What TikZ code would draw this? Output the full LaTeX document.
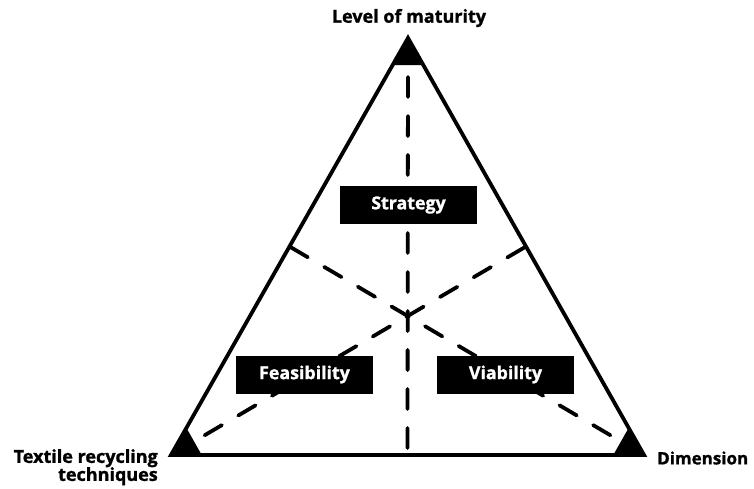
\documentclass[tikz,border=0pt]{standalone}
\usepackage{fontspec}
\setmainfont{Open Sans}[BoldFeatures={FakeBold=1.2}]
\usetikzlibrary{calc}
\begin{document}
\begin{tikzpicture}[x=1pt,y=-1pt,
  edge/.style={line width=3.8pt, line join=miter},
  guide/.style={line width=3.8pt, line cap=round, dash pattern=on 20pt off 19pt},
  tag/.style={fill=black, text=white, font=\bfseries\fontsize{17.8}{20}\selectfont, minimum width=137pt, minimum height=38pt, inner sep=0pt},
  corner/.style={font=\bfseries\fontsize{18}{20}\selectfont}]
\useasboundingbox (0,0) rectangle (754,488);
% outer triangle
\coordinate (A) at (408,38);
\coordinate (B) at (171,455);
\coordinate (C) at (644,455);
% side midpoints
\coordinate (mBC) at ($(B)!0.5!(C)$);
\coordinate (mAC) at ($(A)!0.5!(C)$);
\coordinate (mAB) at ($(A)!0.5!(B)$);
% dashed medians
\draw[guide] (A) -- (mBC);
\draw[guide] (B) -- (mAC);
\draw[guide] (C) -- (mAB);
\draw[edge] (A) -- (B) -- (C) -- cycle;
% filled corner wedges
\fill (A) -- ($(A)!0.065!(B)$) -- ($(A)!0.065!(C)$) -- cycle;
\fill (B) -- ($(B)!0.065!(A)$) -- ($(B)!0.065!(C)$) -- cycle;
\fill (C) -- ($(C)!0.065!(A)$) -- ($(C)!0.065!(B)$) -- cycle;
% labels in boxes
\node[tag] (strategy) at (408.5,205) {Strategy};
\node[tag] (feas) at (304.5,374.5) {Feasibility};
\node[tag] (viab) at (505.5,374.5) {Viability};
% corner labels
\node[corner] (lm) at (409,18) {Level of maturity};
\node[corner, anchor=west, inner sep=0pt, font=\bfseries\fontsize{17}{20}\selectfont] (dim) at (657,458) {Dimension};
\node[corner, anchor=north east, align=right, inner sep=0pt] (trt) at (158,449) {Textile recycling\\[-2pt]techniques};
\end{tikzpicture}
\end{document}
